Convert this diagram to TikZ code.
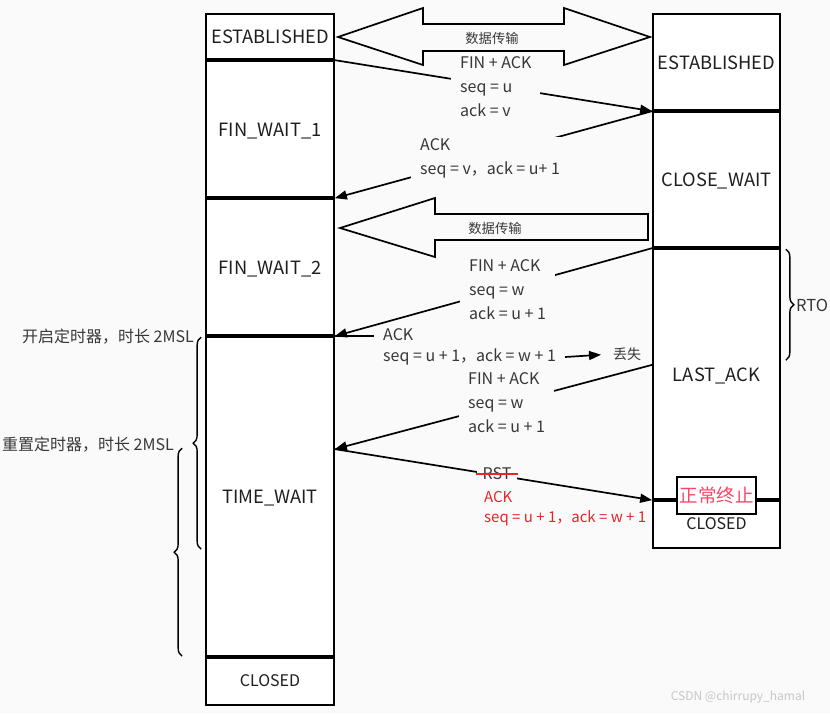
\documentclass[tikz,border=0pt]{standalone}
\usepackage{fontspec}
\setmainfont{Noto Sans CJK SC}
\usetikzlibrary{arrows.meta,decorations.pathreplacing,calc}
\definecolor{bg}{RGB}{250,250,250}
\definecolor{txt}{RGB}{30,30,30}
\definecolor{msgtxt}{RGB}{55,55,55}
\definecolor{redtxt}{RGB}{232,38,42}
\definecolor{pinktxt}{RGB}{250,70,100}
\begin{document}
\begin{tikzpicture}[x=1pt,y=-1pt,
 box/.style={draw=black, line width=1.7pt, fill=white, inner sep=0pt, text=txt,
   text height=12.3pt, text depth=0pt, font=\fontsize{18.3}{22}\selectfont},
 lbox/.style={box, minimum width=128pt},
 rbox/.style={box, minimum width=127pt},
 closedfont/.style={font=\fontsize{16}{20}\selectfont, text height=10.8pt},
 sepline/.style={line width=3.4pt, line cap=butt},
 msg/.style={line width=1.7pt, -{Triangle[length=12pt,width=9pt]}},
 plainline/.style={line width=1.7pt},
 mtext/.style={fill=bg, inner xsep=9pt, inner ysep=1pt, align=left, anchor=west,
   text=msgtxt, font=\fontsize{16}{24}\selectfont},
 bigarrow/.style={draw=black, line width=1.7pt, fill=bg, line join=miter},
 dlabel/.style={text=msgtxt, font=\fontsize{13.3}{15}\selectfont, inner sep=0pt},
 bracedeco/.style={decorate, decoration={brace, amplitude=8pt}, line width=1.4pt},
 note/.style={text=msgtxt, font=\fontsize{16}{18}\selectfont, inner sep=0pt},
]
\fill[bg] (0,0) rectangle (830,713);
\useasboundingbox (0,0) rectangle (830,713);

% state boxes
\node[lbox, minimum height=47pt] (est1) at (270,37.5) {ESTABLISHED};
\node[lbox, minimum height=138pt] (fw1) at (270,130) {FIN\_WAIT\_1};
\node[lbox, minimum height=138pt] (fw2) at (270,268) {FIN\_WAIT\_2};
\node[lbox, minimum height=321pt] (tw) at (270,497.5) {TIME\_WAIT};
\node[lbox, closedfont, minimum height=47pt] (cl1) at (270,681.5) {CLOSED};
\node[rbox, minimum height=98pt] (est2) at (716.5,63) {ESTABLISHED};
\node[rbox, minimum height=137pt] (cw) at (716.5,180.5) {CLOSE\_WAIT};
\node[rbox, minimum height=252pt] (la) at (716.5,375) {LAST\_ACK};
\node[rbox, closedfont, minimum height=47pt] (cl2) at (716.5,524.5) {CLOSED};

\foreach \n in {fw1,fw2,tw,cl1,cw,la,cl2}
  \draw[sepline] (\n.north west) -- (\n.north east);

\node[draw=black, line width=1.7pt, fill=white, minimum width=79pt, minimum height=37pt,
  inner sep=0pt, text=pinktxt, font=\fontsize{18.5}{20}\selectfont] (ok) at (716.5,495.5) {正常终止};

% big data-transfer arrows
\draw[bigarrow] (338,37) -- (423,8) -- (423,24) -- (564,24) -- (564,8) -- (650,37)
  -- (564,65) -- (564,51) -- (423,51) -- (423,65) -- cycle;
\node[dlabel] (d1) at (492,38) {数据传输};
\draw[bigarrow] (340,228) -- (435,198) -- (435,214) -- (648,214) -- (648,240)
  -- (435,240) -- (435,257) -- cycle;
\node[dlabel] (d2) at (495,228) {数据传输};

% message lines
\coordinate (twhit) at ($(tw.north east)!0.35!(tw.south east)$);
\coordinate (lahit) at ($(la.north west)!0.46!(la.south west)$);
\draw[msg] (fw1.north east) -- (cw.north west);
\draw[msg] (cw.north west) -- (fw2.north east);
\draw[msg] (la.north west) -- (tw.north east);
\draw[msg] (lahit) -- (twhit);
\draw[msg] (twhit) -- (cl2.north west);

% message texts
\node[mtext] (t1) at (451,87) {FIN + ACK\\seq = u\\ack = v};
\node[mtext] (t2) at (411,158) {ACK\\seq = v，ack = u+ 1};
\node[mtext] (t3) at (460,290) {FIN + ACK\\seq = w\\ack = u + 1};
\node[mtext, fill=none] (t4a) at (374,335) {ACK};
\node[mtext, fill=none] (t4b) at (374,357) {seq = u + 1，ack = w + 1};
\node[note, font=\fontsize{14}{16}\selectfont, anchor=west] (lost) at (613,354) {丢失};
\draw[plainline] (tw.north east) -- (t4a.west |- tw.north east);
\draw[msg, shorten >=12pt] (t4b.east) -- (lost.west);
\node[mtext] (t5) at (459,403) {FIN + ACK\\seq = w\\ack = u + 1};
\node[mtext, anchor=center, inner xsep=6pt, inner ysep=0pt] (rst) at (497,474) {RST};
\draw[redtxt, line width=1.8pt] (rst.west) -- (rst.east);
\node[anchor=west, text=redtxt, align=left, font=\fontsize{15}{20}\selectfont, inner sep=0pt]
  (t6) at (484,509) {ACK\\seq = u + 1，ack = w + 1};

% braces and timers
\draw[bracedeco] ($(la.north east)+(5,1)$) -- ($(la.north east)+(5,112)$);
\node[note, anchor=west, font=\fontsize{16.5}{20}\selectfont] (rto) at (796,305) {RTO};
\draw[bracedeco] ($(tw.north west)+(-4,213)$) -- ($(tw.north west)+(-4,1)$);
\node[note, anchor=east] (timer1) at (194,337) {开启定时器，时长 2MSL};
\draw[bracedeco] ($(tw.north west)+(-23,320)$) -- ($(tw.north west)+(-23,112)$);
\node[note, anchor=east] (timer2) at (174,445) {重置定时器，时长 2MSL};

\node[text=black!22, font=\fontsize{12}{14}\selectfont, inner sep=0pt] (wm) at (738,697) {CSDN @chirrupy\_hamal};
\end{tikzpicture}
\end{document}
